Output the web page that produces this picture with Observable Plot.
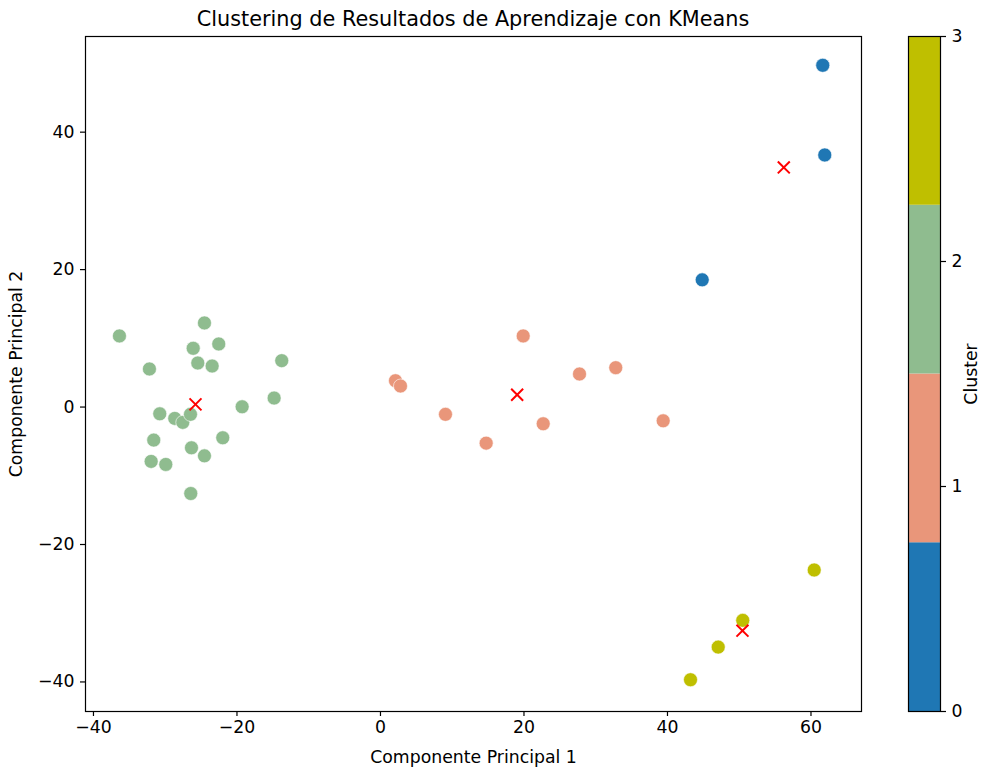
<!DOCTYPE html>
<html><head><meta charset="utf-8">
<script src="https://cdn.jsdelivr.net/npm/d3@7"></script>
<script src="https://cdn.jsdelivr.net/npm/@observablehq/plot@0.6"></script>
<style>
body{margin:0;background:#fff;font-family:"DejaVu Sans",sans-serif;}
#wrap{position:relative;width:981px;height:769px;overflow:hidden;background:#fff;}
#title{position:absolute;left:85px;width:776px;top:9px;text-align:center;font-size:20.8px;line-height:20.8px;color:#000;font-family:"DejaVu Sans",sans-serif;white-space:nowrap;}
#main{position:absolute;left:0;top:0;}
#cbar{position:absolute;left:870px;top:0;}
</style></head><body>
<div id="wrap"><div id="title">Clustering de Resultados de Aprendizaje con KMeans</div><div id="main"></div><div id="cbar"></div></div>
<script>
const clusterIds = [0, 1, 2, 3];
const clusterColors = ["#1f77b4", "#e9967a", "#8fbc8f", "#bfbf00"];

// Cluster 0 (blue)
const c0_x = [61.64, 61.92, 44.84];
const c0_y = [49.73, 36.68, 18.51];
// Cluster 1 (salmon)
const c1_x = [2.09, 2.79, 19.89, 9.06, 14.73, 22.68, 27.74, 32.79, 39.40];
const c1_y = [3.83, 3.06, 10.35, -1.06, -5.25, -2.43, 4.81, 5.73, -2.00];
// Cluster 2 (green)
const c2_x = [-36.38, -24.53, -26.10, -22.54, -25.46, -23.46, -32.20, -13.76, -14.82, -19.28, -30.76,
              -28.67, -27.55, -26.48, -21.98, -31.60, -26.34, -24.53, -31.96, -29.92, -26.44];
const c2_y = [10.35, 12.24, 8.55, 9.18, 6.41, 5.97, 5.54, 6.75, 1.31, 0.04, -0.98,
              -1.65, -2.23, -1.06, -4.47, -4.81, -5.93, -7.10, -7.91, -8.35, -12.58];
// Cluster 3 (olive)
const c3_x = [60.45, 50.49, 47.07, 43.21];
const c3_y = [-23.71, -31.04, -34.93, -39.68];

// Centroids
const centroidX = [56.21, 19.05, -25.78, 50.45];
const centroidY = [34.87, 1.79, 0.39, -32.54];

const xTicks = [-40, -20, 0, 20, 40, 60];
const yTicks = [-40, -20, 0, 20, 40];
const cbTicks = [0, 1, 2, 3];

const groups = [[c0_x, c0_y], [c1_x, c1_y], [c2_x, c2_y], [c3_x, c3_y]];
const points = [];
groups.forEach(([xs, ys], k) => xs.forEach((x, i) => points.push({x, y: ys[i], cluster: clusterIds[k]})));
const centroids = centroidX.map((x, i) => ({x, y: centroidY[i]}));

const fmt = d => d < 0 ? "\u2212" + Math.abs(d) : String(d);
const font = {fontFamily: "DejaVu Sans", fontSize: "17.3px", color: "#000", background: "transparent"};

const main = Plot.plot({
  width: 870, height: 769,
  marginLeft: 85, marginRight: 9, marginTop: 36, marginBottom: 58,
  style: font,
  x: {domain: [-41.11, 67.04]},
  y: {domain: [-44.3, 53.92]},
  color: {type: "ordinal", domain: clusterIds, range: clusterColors},
  marks: [
    Plot.axisX({ticks: xTicks, tickFormat: fmt, tickSize: 5, tickPadding: 4, label: "Componente Principal 1", labelAnchor: "center", labelArrow: "none", labelOffset: 51, stroke: "#000", strokeWidth: 1.2}),
    Plot.axisY({ticks: yTicks, tickFormat: fmt, tickSize: 5, tickPadding: 6, label: "Componente Principal 2", labelAnchor: "center", labelArrow: "none", labelOffset: 76, stroke: "#000", strokeWidth: 1.2}),
    Plot.dot(points, {x: "x", y: "y", fill: "cluster", r: 7, stroke: "white", strokeWidth: 0.6}),
    Plot.dot(centroids, {x: "x", y: "y", symbol: "times", stroke: "red", r: 5.5, strokeWidth: 2}),
    Plot.frame({stroke: "#000", strokeWidth: 1.2})
  ]
});
document.getElementById("main").appendChild(main);

const cb = Plot.plot({
  width: 111, height: 769,
  marginLeft: 38, marginRight: 41, marginTop: 36, marginBottom: 58,
  style: font,
  x: {domain: [0, 1], axis: null},
  y: {domain: [0, 3]},
  color: {type: "ordinal", domain: clusterIds, range: clusterColors},
  marks: [
    Plot.rect(clusterIds, {x1: () => 0, x2: () => 1, y1: d => d * 3 / clusterIds.length, y2: d => (d + 1) * 3 / clusterIds.length, fill: d => d}),
    Plot.axisY({anchor: "right", ticks: cbTicks, tickFormat: fmt, tickSize: 5, tickPadding: 6, label: null, stroke: "#000", strokeWidth: 1.2}),
    Plot.frame({stroke: "#000", strokeWidth: 1.2}),
    Plot.text(["Cluster"], {frameAnchor: "right", textAnchor: "middle", lineAnchor: "middle", dx: 31, rotate: -90, fontSize: 17.3, fill: "#000"})
  ]
});
document.getElementById("cbar").appendChild(cb);
</script>
</body></html>
